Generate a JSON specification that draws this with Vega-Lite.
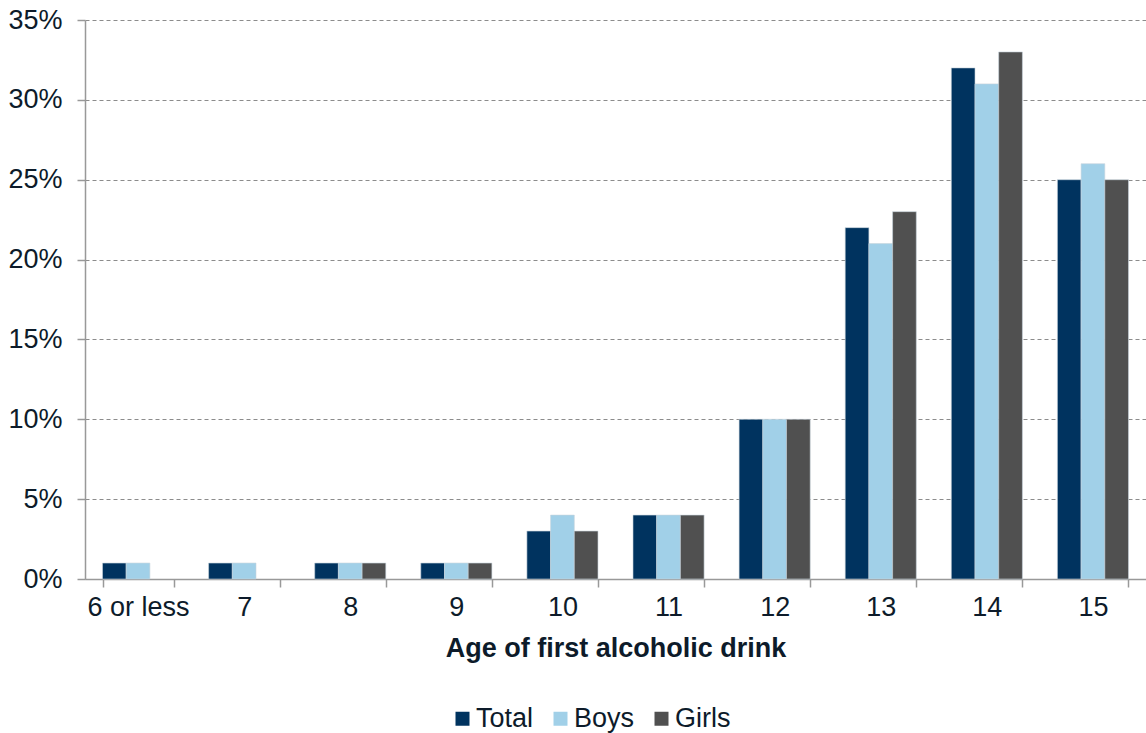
{
  "$schema": "https://vega.github.io/schema/vega-lite/v6.json",
  "width": 1061,
  "height": 559,
  "autosize": "none",
  "padding": {"left": 85, "top": 20, "right": 0, "bottom": 154},
  "background": "white",
  "config": {
    "view": {"stroke": null},
    "font": "Liberation Sans",
    "text": {"font": "Liberation Sans"}
  },
  "data": {
    "values": [
      {"age": "6 or less", "group": "Total", "value": 1},
      {"age": "6 or less", "group": "Boys", "value": 1},
      {"age": "7", "group": "Total", "value": 1},
      {"age": "7", "group": "Boys", "value": 1},
      {"age": "8", "group": "Total", "value": 1},
      {"age": "8", "group": "Boys", "value": 1},
      {"age": "8", "group": "Girls", "value": 1},
      {"age": "9", "group": "Total", "value": 1},
      {"age": "9", "group": "Boys", "value": 1},
      {"age": "9", "group": "Girls", "value": 1},
      {"age": "10", "group": "Total", "value": 3},
      {"age": "10", "group": "Boys", "value": 4},
      {"age": "10", "group": "Girls", "value": 3},
      {"age": "11", "group": "Total", "value": 4},
      {"age": "11", "group": "Boys", "value": 4},
      {"age": "11", "group": "Girls", "value": 4},
      {"age": "12", "group": "Total", "value": 10},
      {"age": "12", "group": "Boys", "value": 10},
      {"age": "12", "group": "Girls", "value": 10},
      {"age": "13", "group": "Total", "value": 22},
      {"age": "13", "group": "Boys", "value": 21},
      {"age": "13", "group": "Girls", "value": 23},
      {"age": "14", "group": "Total", "value": 32},
      {"age": "14", "group": "Boys", "value": 31},
      {"age": "14", "group": "Girls", "value": 33},
      {"age": "15", "group": "Total", "value": 25},
      {"age": "15", "group": "Boys", "value": 26},
      {"age": "15", "group": "Girls", "value": 25}
    ]
  },
  "mark": {"type": "bar", "stroke": "#c8d4dc", "strokeWidth": 0.6},
  "encoding": {
    "x": {
      "field": "age",
      "type": "nominal",
      "sort": ["6 or less", "7", "8", "9", "10", "11", "12", "13", "14", "15"],
      "scale": {"paddingInner": 0.33, "paddingOuter": 0.165},
      "axis": {
        "title": "Age of first alcoholic drink",
        "titleFont": "Liberation Sans",
        "titleFontSize": 27,
        "titleFontWeight": "bold",
        "titleColor": "#0d1b2a",
        "titlePadding": 15,
        "labelFont": "Liberation Sans",
        "labelFontSize": 27,
        "labelColor": "#0d1b2a",
        "labelAngle": 0,
        "labelPadding": 7,
        "tickBand": "extent",
        "tickSize": 8,
        "tickColor": "#999999",
        "domainColor": "#999999",
        "domainWidth": 1.5,
        "tickWidth": 1.5,
        "grid": false
      }
    },
    "xOffset": {
      "field": "group",
      "type": "nominal",
      "sort": ["Total", "Boys", "Girls"],
      "scale": {"domain": ["Total", "Boys", "Girls"], "paddingInner": 0, "paddingOuter": 0}
    },
    "y": {
      "field": "value",
      "type": "quantitative",
      "scale": {"domain": [0, 35]},
      "axis": {
        "title": null,
        "values": [0, 5, 10, 15, 20, 25, 30, 35],
        "labelExpr": "datum.value + '%'",
        "labelFont": "Liberation Sans",
        "labelFontSize": 27,
        "labelColor": "#0d1b2a",
        "labelPadding": 15,
        "tickSize": 8,
        "tickColor": "#999999",
        "tickWidth": 1.5,
        "domainColor": "#999999",
        "domainWidth": 1.5,
        "grid": true,
        "gridColor": "#8c8c8c",
        "gridDash": [4, 3],
        "gridWidth": 1
      }
    },
    "color": {
      "field": "group",
      "type": "nominal",
      "sort": ["Total", "Boys", "Girls"],
      "scale": {"domain": ["Total", "Boys", "Girls"], "range": ["#00335f", "#a1d0e8", "#505050"]},
      "legend": {
        "title": null,
        "orient": "none",
        "direction": "horizontal",
        "legendX": 364,
        "legendY": 685,
        "symbolType": "square",
        "symbolSize": 196,
        "symbolStrokeWidth": 0,
        "labelFont": "Liberation Sans",
        "labelFontSize": 27,
        "labelColor": "#0d1b2a",
        "labelOffset": 0,
        "columnPadding": 13
      }
    }
  }
}
